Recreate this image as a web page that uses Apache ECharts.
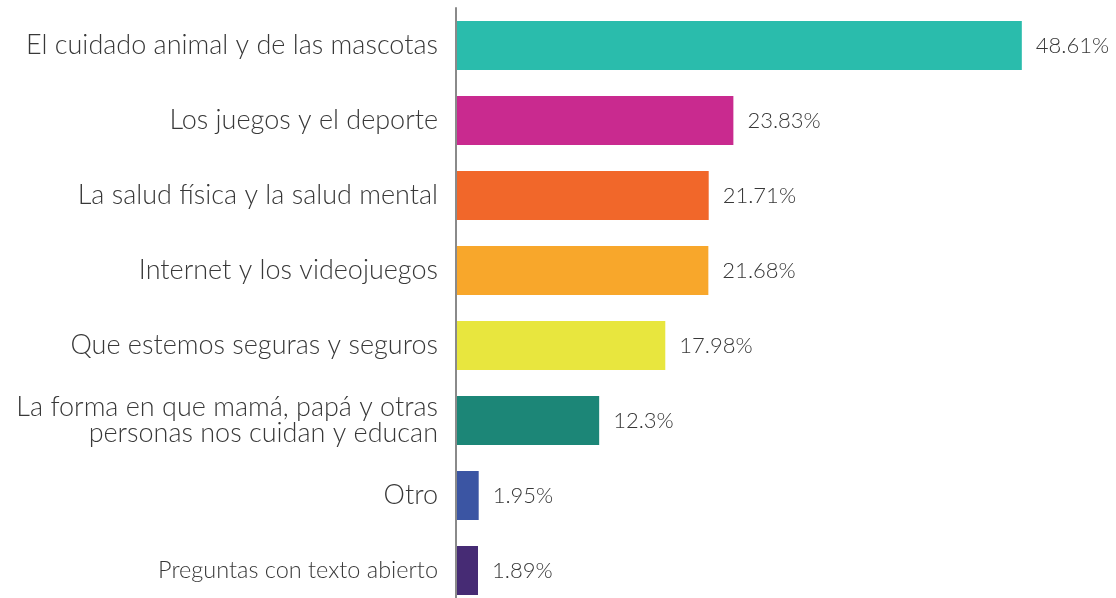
<!DOCTYPE html>
<html>
<head>
<meta charset="utf-8">
<script src="https://cdn.jsdelivr.net/npm/echarts@6/dist/echarts.min.js"></script>
<style>
  html, body { margin: 0; padding: 0; background: #fff; }
  #chart { width: 1116px; height: 598px; }
</style>
</head>
<body>
<div id="chart"></div>
<script>
// datos
const categories = [
    'El cuidado animal y de las mascotas',
    'Los juegos y el deporte',
    'La salud física y la salud mental',
    'Internet y los videojuegos',
    'Que estemos seguras y seguros',
    'La forma en que mamá, papá y otras\npersonas nos cuidan y educan',
    'Otro',
    'Preguntas con texto abierto'
];
const values = [48.61, 23.83, 21.71, 21.68, 17.98, 12.3, 1.95, 1.89];
const barColors = ['#2ABCAC', '#C92A8F', '#F1672A', '#F8A72B', '#E8E63E', '#1C8677', '#3B55A3', '#462B74'];

document.addEventListener('DOMContentLoaded', function() {
    const chart = echarts.init(document.getElementById('chart'));
    const font = 'Lato';
    const option = {
        animation: false,
        grid: {
            left: 456,
            top: 8,
            width: 582,
            height: 600,
            outerBoundsMode: 'none'
        },
        xAxis: {
            type: 'value',
            min: 0,
            max: 50,
            show: false
        },
        yAxis: {
            type: 'category',
            inverse: true,
            data: categories,
            axisLine: { show: true, lineStyle: { color: '#8a8a8a', width: 2 } },
            axisTick: { show: false },
            axisLabel: {
                margin: 18,
                color: '#383838',
                fontFamily: font,
                fontWeight: 300,
                fontSize: 27,
                lineHeight: 26,
                formatter: function(v) {
                    return v === 'Preguntas con texto abierto' ? '{s|' + v + '}' : v;
                },
                rich: {
                    s: { fontFamily: font, fontWeight: 300, fontSize: 23.5, color: '#383838' }
                }
            },
            z: 3
        },
        series: [
            {
                type: 'bar',
                barWidth: 49,
                data: values.map(function(v, i) {
                    return { value: v, itemStyle: { color: barColors[i] } };
                }),
                label: {
                    show: true,
                    position: 'right',
                    distance: 14,
                    color: '#383838',
                    fontFamily: font,
                    fontWeight: 300,
                    fontSize: 22,
                    formatter: '{c}%'
                },
                z: 2
            }
        ]
    };
    chart.setOption(option);
});
</script>
</body>
</html>
